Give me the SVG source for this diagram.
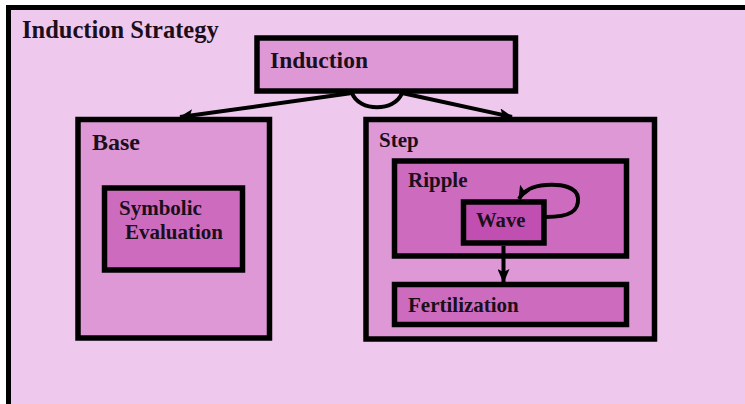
<svg xmlns="http://www.w3.org/2000/svg" width="745" height="404" viewBox="0 0 745 404">
  <style>
    .box { stroke: #000; stroke-width: 5.5; }
    .lvl1 { fill: #DE98D6; }
    .lvl2 { fill: #CD6CBE; }
    .lvl3 { fill: #C04FB1; }
    .label { font-family: "Liberation Serif", "Times New Roman", serif; font-weight: bold; fill: #1a0f1a; }
    .conn { fill: none; stroke: #000; stroke-width: 4; }
  </style>
  <defs>
    <marker id="arrow" viewBox="0 0 14 12" refX="13" refY="6" markerWidth="14" markerHeight="12" orient="auto" markerUnits="userSpaceOnUse">
      <path d="M0,0 L14,6 L0,12 L3,6 Z" fill="#000"/>
    </marker>
  </defs>

  <!-- page background -->
  <rect x="0" y="0" width="745" height="404" fill="#ffffff"/>

  <!-- outer strategy frame (runs past the right and bottom edges) -->
  <g id="induction-strategy">
    <rect x="8.5" y="7.5" width="800" height="500" fill="#EFC8EE" stroke="#000" stroke-width="5"/>
    <text class="label" x="22" y="38" font-size="24.5">Induction Strategy</text>
  </g>

  <g id="induction">
    <rect class="box lvl1" x="257" y="38" width="258.5" height="53"/>
    <text class="label" x="270" y="68" font-size="23.5">Induction</text>
  </g>

  <g id="base">
    <rect class="box lvl1" x="78" y="119.5" width="191.5" height="218.5" stroke-width="6"/>
    <text class="label" x="92" y="150" font-size="24">Base</text>
  </g>

  <g id="symbolic-evaluation">
    <rect class="box lvl2" x="104.5" y="188" width="138" height="82"/>
    <text class="label" x="119" y="215" font-size="21">Symbolic</text>
    <text class="label" x="125" y="239" font-size="21">Evaluation</text>
  </g>

  <g id="step">
    <rect class="box lvl1" x="366" y="119.5" width="288.5" height="219.5" stroke-width="6"/>
    <text class="label" x="379" y="147" font-size="21">Step</text>
  </g>

  <g id="ripple">
    <rect class="box lvl2" x="394.5" y="161" width="232" height="95"/>
    <text class="label" x="408" y="187" font-size="21">Ripple</text>
  </g>

  <g id="wave">
    <rect class="box lvl3" x="463.5" y="202" width="80.5" height="41"/>
    <text class="label" x="476" y="227" font-size="20.7">Wave</text>
  </g>

  <g id="fertilization">
    <rect class="box lvl2" x="394.5" y="284.5" width="232" height="40"/>
    <text class="label" x="408" y="312" font-size="21">Fertilization</text>
  </g>

  <g id="connectors">
    <!-- induction splits into base and step cases -->
    <path class="conn" d="M352 93 L180 117" marker-end="url(#arrow)"/>
    <path class="conn" d="M352 93 C359 112, 395 112, 402 93"/>
    <path class="conn" d="M402 93 L512 117" marker-end="url(#arrow)"/>
    <!-- wave repeats on itself -->
    <path class="conn" d="M546 217 C570 217, 579 211, 578 198 C577 187, 562 184, 546 185 C532 186, 524 190, 519 199" marker-end="url(#arrow)"/>
    <!-- wave leads to fertilization -->
    <path class="conn" d="M503.5 246 L503.5 282" marker-end="url(#arrow)"/>
  </g>
</svg>
